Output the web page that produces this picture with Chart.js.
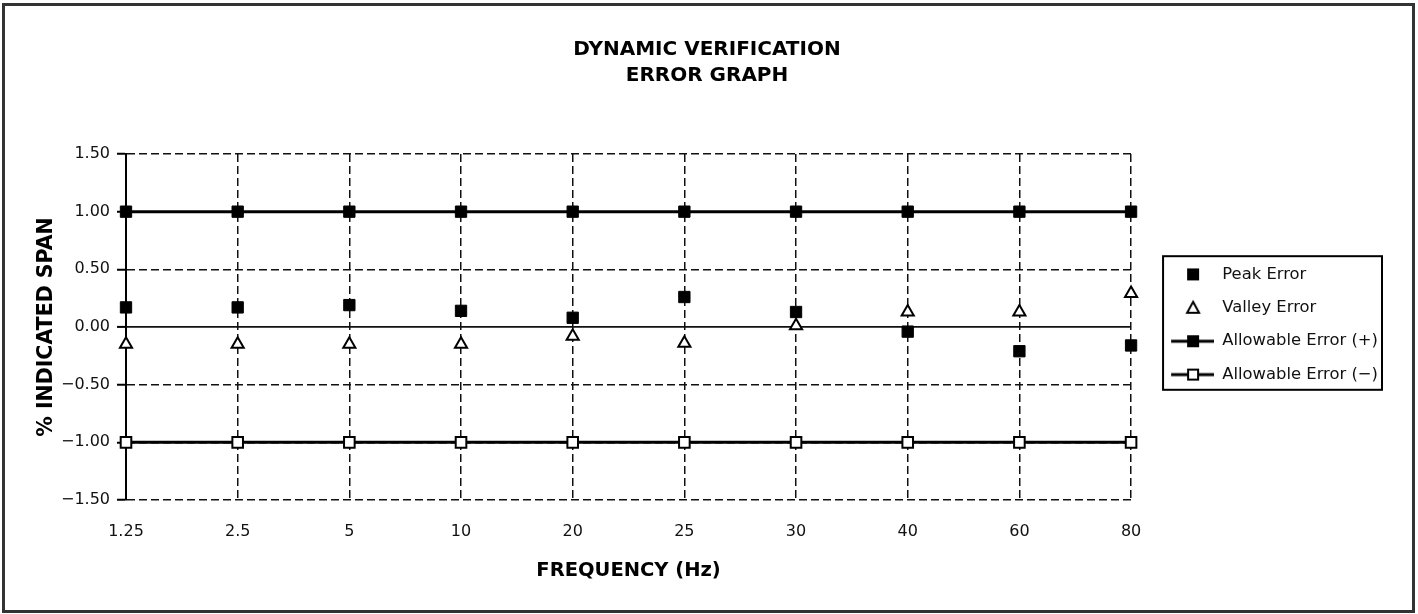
<!DOCTYPE html>
<html>
<head>
<meta charset="utf-8">
<title>Dynamic Verification Error Graph</title>
<script src="https://cdn.jsdelivr.net/npm/chart.js@4.4.1/dist/chart.umd.min.js"></script>
<style>
  html, body { margin: 0; padding: 0; background: #fff; }
  #wrap { position: absolute; left: 0; top: 0; width: 1418px; height: 614px; }
  #frame {
    position: absolute; left: 2px; top: 3px; width: 1413px; height: 610px;
    box-sizing: border-box; border: 3px solid #333; pointer-events: none;
  }
</style>
</head>
<body>
<div id="wrap"><canvas id="chart"></canvas></div>
<div id="frame"></div>
<script>
// values
const frequencies = ["1.25", "2.5", "5", "10", "20", "25", "30", "40", "60", "80"];
const peakError = [0.17, 0.17, 0.19, 0.14, 0.08, 0.26, 0.13, -0.04, -0.21, -0.16];
const valleyError = [-0.15, -0.15, -0.15, -0.15, -0.08, -0.14, 0.01, 0.13, 0.13, 0.29];
const allowablePlus = [1.00, 1.00, 1.00, 1.00, 1.00, 1.00, 1.00, 1.00, 1.00, 1.00];
const allowableMinus = [-1.00, -1.00, -1.00, -1.00, -1.00, -1.00, -1.00, -1.00, -1.00, -1.00];
const seriesLabels = ["Peak Error", "Valley Error", "Allowable Error (+)", "Allowable Error (\u2212)"];
const yRange = [-1.5, 1.5];
const yStep = 0.5;

const FONT = "'DejaVu Sans', Verdana, sans-serif";
const DASH = [8, 4];

// small canvases used as legend symbols (line + marker like the original key)
function legendIcon(kind) {
  const c = document.createElement("canvas");
  c.width = 66;
  c.height = 22;
  const g = c.getContext("2d");
  const cx = 45, cy = 11;
  g.strokeStyle = "#000";
  g.fillStyle = "#000";
  if (kind === "plus" || kind === "minus") {
    g.lineWidth = 3;
    g.beginPath();
    g.moveTo(23, cy);
    g.lineTo(66, cy);
    g.stroke();
  }
  if (kind === "peak" || kind === "plus") {
    g.fillRect(cx - 6, cy - 6, 12, 12);
  }
  if (kind === "minus") {
    g.fillStyle = "#fff";
    g.lineWidth = 2;
    g.fillRect(cx - 5, cy - 5, 10, 10);
    g.strokeRect(cx - 5, cy - 5, 10, 10);
  }
  if (kind === "valley") {
    g.fillStyle = "#fff";
    g.lineWidth = 2;
    g.beginPath();
    g.moveTo(cx, cy - 6);
    g.lineTo(cx + 6, cy + 5);
    g.lineTo(cx - 6, cy + 5);
    g.closePath();
    g.fill();
    g.stroke();
  }
  return c;
}
const icons = [legendIcon("peak"), legendIcon("valley"), legendIcon("plus"), legendIcon("minus")];

// box round the legend items
const legendFrame = {
  id: "legendFrame",
  afterDraw(chart) {
    const boxes = chart.legend && chart.legend.legendHitBoxes;
    if (!boxes || !boxes.length) return;
    const first = boxes[0], last = boxes[boxes.length - 1];
    const right = Math.max(...boxes.map((b) => b.left + b.width));
    const ctx = chart.ctx;
    ctx.save();
    ctx.strokeStyle = "#000";
    ctx.lineWidth = 2;
    ctx.strokeRect(first.left + 15, first.top - 10, right + 4 - (first.left + 15), last.top + last.height + 7 - (first.top - 10));
    ctx.restore();
  },
};

const gridDash = (ctx) => (ctx.tick && ctx.tick.value === 0 ? [] : DASH);

new Chart(document.getElementById("chart"), {
  type: "line",
  data: {
    labels: frequencies,
    datasets: [
      {
        label: seriesLabels[0],
        data: peakError,
        showLine: false,
        pointStyle: "rect",
        pointRadius: 8,
        pointBackgroundColor: "#000",
        pointBorderColor: "#000",
        pointBorderWidth: 1,
        clip: false,
      },
      {
        label: seriesLabels[1],
        data: valleyError,
        showLine: false,
        pointStyle: "triangle",
        pointRadius: 7,
        pointBackgroundColor: "#fff",
        pointBorderColor: "#000",
        pointBorderWidth: 2,
        clip: false,
      },
      {
        label: seriesLabels[2],
        data: allowablePlus,
        borderColor: "#000",
        borderWidth: 3,
        pointStyle: "rect",
        pointRadius: 8,
        pointBackgroundColor: "#000",
        pointBorderColor: "#000",
        pointBorderWidth: 1,
        clip: false,
      },
      {
        label: seriesLabels[3],
        data: allowableMinus,
        borderColor: "#000",
        borderWidth: 3,
        pointStyle: "rect",
        pointRadius: 7.5,
        pointBackgroundColor: "#fff",
        pointBorderColor: "#000",
        pointBorderWidth: 2,
        clip: false,
      },
    ],
  },
  options: {
    responsive: true,
    maintainAspectRatio: false,
    animation: false,
    events: [],
    layout: { padding: { top: 37, left: 26, right: 30, bottom: 2 } },
    plugins: {
      title: {
        display: true,
        text: ["DYNAMIC VERIFICATION", "ERROR GRAPH"],
        color: "#000",
        font: { family: FONT, size: 20, weight: "bold", lineHeight: "26px" },
        padding: { top: 0, bottom: 65 },
      },
      legend: {
        position: "right",
        align: "center",
        labels: {
          usePointStyle: true,
          pointStyleWidth: 66,
          padding: 17,
          color: "#111",
          font: { family: FONT, size: 16.4 },
          generateLabels(chart) {
            return Chart.defaults.plugins.legend.labels.generateLabels(chart).map((item) => {
              item.pointStyle = icons[item.datasetIndex];
              return item;
            });
          },
        },
      },
      tooltip: { enabled: false },
    },
    scales: {
      x: {
        offset: false,
        afterFit(scale) { scale.height = 112; },
        grid: { color: "#111", lineWidth: 1.5, drawTicks: false },
        border: { display: false, dash: DASH },
        ticks: { color: "#111", padding: 22, font: { family: FONT, size: 16 }, maxRotation: 0 },
        title: {
          display: true,
          text: "FREQUENCY (Hz)",
          color: "#000",
          font: { family: FONT, size: 19.5, weight: "bold" },
          padding: { top: 0, bottom: 29 },
        },
      },
      y: {
        min: yRange[0],
        max: yRange[1],
        afterFit(scale) { scale.width = 100; },
        grid: {
          color: "#111",
          lineWidth: (ctx) => (ctx.tick && ctx.tick.value === 0 ? 1.8 : 1.5),
          tickLength: 9,
          tickColor: "#000",
          tickWidth: 2,
        },
        border: { display: true, color: "#000", width: 2, dash: gridDash },
        ticks: {
          stepSize: yStep,
          color: "#111",
          padding: 7,
          font: { family: FONT, size: 16 },
          callback: (v) => (v < 0 ? "\u2212" : "") + Math.abs(v).toFixed(2),
        },
        title: {
          display: true,
          text: "% INDICATED SPAN",
          color: "#000",
          font: { family: FONT, size: 20.5, weight: "bold" },
          padding: { top: 8, bottom: 0 },
        },
      },
    },
  },
  plugins: [legendFrame],
});
</script>
</body>
</html>
